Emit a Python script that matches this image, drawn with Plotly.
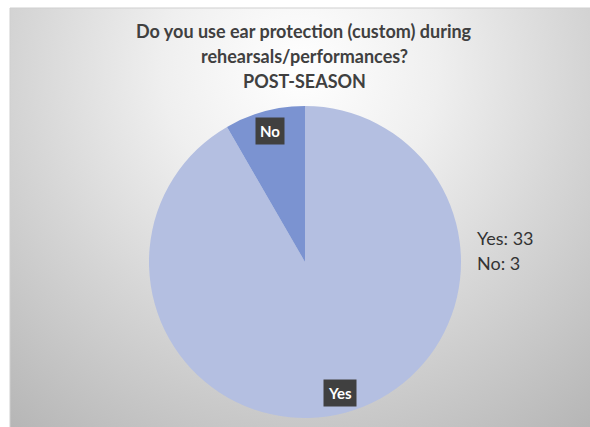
import math
import base64
import plotly.graph_objects as go

# ---- data ----
labels = ["Yes", "No"]
values = [33, 3]
colors = ["#b4bfe1", "#7b93d1"]
title_lines = ["Do you use ear protection (custom) during",
               "rehearsals/performances?",
               "POST-SEASON"]
summary_lines = [f"{l}: {v}" for l, v in zip(labels, values)]

# ---- layout geometry (pixels) ----
W, H = 590, 427
frame_x0, frame_y0 = 10, 8
pcx, pcy, pr = 305, 262, 156
FONT = "Lato"

def px(x):
    return x / W

def py(y):
    return 1 - y / H

# radial gradient background as svg
svg = f'''<svg xmlns="http://www.w3.org/2000/svg" width="{W-frame_x0}" height="{H-frame_y0}">
<defs><radialGradient id="g" gradientUnits="userSpaceOnUse" cx="290" cy="60" r="460">
<stop offset="0" stop-color="#ffffff"/>
<stop offset="0.3" stop-color="#efefef"/>
<stop offset="0.6" stop-color="#d6d6d6"/>
<stop offset="1" stop-color="#b6b6b6"/>
</radialGradient></defs>
<rect x="0" y="0" width="{W-frame_x0}" height="{H-frame_y0}" fill="url(#g)"/>
</svg>'''
src = "data:image/svg+xml;base64," + base64.b64encode(svg.encode()).decode()

fig = go.Figure()
fig.add_trace(go.Pie(
    labels=labels, values=values, sort=False, direction="clockwise", rotation=0,
    marker=dict(colors=colors, line=dict(width=0)),
    textinfo="none", showlegend=False,
    domain=dict(x=[px(pcx - pr), px(pcx + pr)], y=[py(pcy + pr), py(pcy - pr)]),
))

annotations = []
# slice labels at inside end
total = sum(values)
cum = 0
for lab, v in zip(labels, values):
    mid = (cum + v / 2) / total * 2 * math.pi
    cum += v
    lx = pcx + 0.87 * pr * math.sin(mid)
    ly = pcy - 0.87 * pr * math.cos(mid)
    annotations.append(dict(
        x=px(lx), y=py(ly), xref="paper", yref="paper", showarrow=False,
        text=f"<b>{lab}</b>", font=dict(family=FONT, size=15, color="white"),
        bgcolor="#404040", borderpad=4, xanchor="center", yanchor="middle"))

# title lines
for i, t in enumerate(title_lines):
    annotations.append(dict(
        x=px(304), y=py(31 + 25 * i), xref="paper", yref="paper", showarrow=False,
        text=f"<b>{t}</b>", font=dict(family=FONT, size=18, color="#404040"),
        xanchor="center", yanchor="middle"))

# summary text
for i, t in enumerate(summary_lines):
    annotations.append(dict(
        x=px(475), y=py(238 + 25 * i), xref="paper", yref="paper", showarrow=False,
        text=t, font=dict(family=FONT, size=18, color="#333333"),
        xanchor="left", yanchor="middle"))

fig.update_layout(
    width=W, height=H, margin=dict(l=0, r=0, t=0, b=0),
    paper_bgcolor="white", plot_bgcolor="white",
    images=[dict(source=src, xref="paper", yref="paper", x=px(frame_x0), y=py(frame_y0),
                 sizex=(W - frame_x0) / W, sizey=(H - frame_y0) / H,
                 sizing="stretch", layer="below", xanchor="left", yanchor="top")],
    shapes=[dict(type="rect", xref="paper", yref="paper",
                 x0=px(frame_x0), x1=px(W + 2), y0=py(H + 2), y1=py(frame_y0),
                 line=dict(color="#cfcfcf", width=1), fillcolor="rgba(0,0,0,0)")],
    annotations=annotations,
)

fig.write_html("out.html")
